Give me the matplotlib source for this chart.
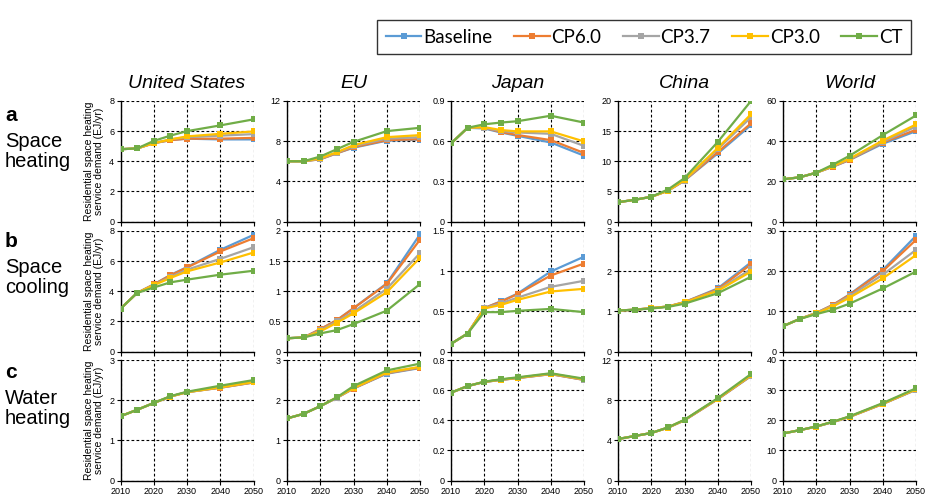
import matplotlib
matplotlib.use("Agg")
import matplotlib.pyplot as plt
from matplotlib.lines import Line2D

years = [2010, 2015, 2020, 2025, 2030, 2040, 2050]
scenarios = ["Baseline", "CP6.0", "CP3.7", "CP3.0", "CT"]
colors = ["#5B9BD5", "#ED7D31", "#A5A5A5", "#FFC000", "#70AD47"]
regions = ["United States", "EU", "Japan", "China", "World"]
rows = ["Space\nheating", "Space\ncooling", "Water\nheating"]
row_letters = ["a", "b", "c"]

# Row a: space heating
heat_us = [
    [4.8, 4.85, 5.2, 5.4, 5.5, 5.45, 5.45],
    [4.8, 4.85, 5.2, 5.4, 5.5, 5.5, 5.55],
    [4.8, 4.85, 5.2, 5.45, 5.6, 5.7, 5.8],
    [4.8, 4.85, 5.2, 5.45, 5.65, 5.82, 5.98],
    [4.8, 4.85, 5.35, 5.7, 6.0, 6.38, 6.78],
]
heat_eu = [
    [6.0, 6.0, 6.2, 6.8, 7.35, 8.05, 8.15],
    [6.0, 6.0, 6.2, 6.8, 7.4, 8.1, 8.2],
    [6.0, 6.0, 6.25, 6.85, 7.5, 8.25, 8.4],
    [6.0, 6.0, 6.3, 6.9, 7.6, 8.4, 8.6],
    [6.0, 6.0, 6.47, 7.2, 7.93, 9.0, 9.33],
]
heat_jp = [
    [0.583, 0.70, 0.695, 0.665, 0.64, 0.59, 0.492],
    [0.583, 0.70, 0.70, 0.668, 0.646, 0.608, 0.512],
    [0.583, 0.70, 0.70, 0.675, 0.665, 0.655, 0.565],
    [0.583, 0.70, 0.705, 0.683, 0.673, 0.673, 0.598],
    [0.583, 0.70, 0.726, 0.739, 0.749, 0.79, 0.739],
]
heat_cn = [
    [3.2, 3.6, 4.1, 5.1, 6.8, 11.3, 16.0],
    [3.2, 3.6, 4.1, 5.1, 6.8, 11.5, 16.3],
    [3.2, 3.6, 4.1, 5.1, 6.8, 12.0, 17.3],
    [3.2, 3.6, 4.1, 5.1, 6.9, 12.2, 17.8],
    [3.2, 3.6, 4.1, 5.3, 7.2, 13.2, 20.0],
]
heat_wd = [
    [21.0, 22.0, 24.3, 27.3, 30.6, 38.7, 45.0],
    [21.0, 22.0, 24.3, 27.3, 30.7, 39.3, 45.7],
    [21.0, 22.0, 24.3, 27.4, 31.0, 39.6, 47.3],
    [21.0, 22.0, 24.3, 27.6, 31.3, 40.3, 48.3],
    [21.0, 22.0, 24.3, 28.3, 32.7, 43.0, 52.8],
]
# Row b: space cooling
cool_us = [
    [2.84, 3.89, 4.45, 5.08, 5.6, 6.75, 7.74],
    [2.84, 3.89, 4.45, 5.05, 5.58, 6.64, 7.52],
    [2.84, 3.89, 4.42, 4.95, 5.43, 6.15, 6.92],
    [2.84, 3.89, 4.4, 4.88, 5.32, 5.91, 6.57],
    [2.84, 3.89, 4.25, 4.59, 4.77, 5.1, 5.36],
]
cool_eu = [
    [0.22, 0.233, 0.37, 0.52, 0.72, 1.13, 1.944],
    [0.22, 0.233, 0.37, 0.52, 0.717, 1.12, 1.856],
    [0.22, 0.233, 0.35, 0.50, 0.66, 1.04, 1.633],
    [0.22, 0.233, 0.333, 0.478, 0.633, 0.983, 1.556],
    [0.22, 0.233, 0.30, 0.355, 0.455, 0.678, 1.12],
]
cool_jp = [
    [0.095, 0.224, 0.54, 0.625, 0.72, 0.996, 1.18],
    [0.095, 0.224, 0.54, 0.62, 0.714, 0.946, 1.095],
    [0.095, 0.224, 0.54, 0.60, 0.67, 0.805, 0.88],
    [0.095, 0.224, 0.535, 0.58, 0.643, 0.747, 0.78],
    [0.095, 0.224, 0.49, 0.49, 0.506, 0.53, 0.49],
]
cool_cn = [
    [1.02, 1.04, 1.08, 1.12, 1.23, 1.57, 2.22],
    [1.02, 1.04, 1.08, 1.12, 1.23, 1.55, 2.17],
    [1.02, 1.04, 1.08, 1.12, 1.22, 1.53, 2.05],
    [1.02, 1.04, 1.08, 1.12, 1.22, 1.51, 1.99],
    [1.02, 1.04, 1.07, 1.11, 1.19, 1.45, 1.86],
]
cool_wd = [
    [6.3, 8.1, 9.6, 11.6, 14.2, 20.3, 28.8],
    [6.3, 8.1, 9.6, 11.6, 14.1, 20.0, 27.8],
    [6.3, 8.1, 9.6, 11.4, 13.8, 19.1, 25.3],
    [6.3, 8.1, 9.5, 11.2, 13.4, 18.2, 24.0],
    [6.3, 8.1, 9.3, 10.4, 11.9, 15.7, 19.9],
]
# Row c: water heating
water_us = [
    [1.6, 1.76, 1.93, 2.09, 2.2, 2.31, 2.44],
    [1.6, 1.76, 1.93, 2.09, 2.2, 2.31, 2.44],
    [1.6, 1.76, 1.93, 2.09, 2.2, 2.32, 2.45],
    [1.6, 1.76, 1.93, 2.09, 2.2, 2.32, 2.45],
    [1.6, 1.76, 1.93, 2.1, 2.21, 2.36, 2.5],
]
water_eu = [
    [1.545, 1.66, 1.85, 2.06, 2.29, 2.66, 2.8],
    [1.545, 1.66, 1.85, 2.06, 2.29, 2.67, 2.81],
    [1.545, 1.66, 1.85, 2.06, 2.3, 2.68, 2.82],
    [1.545, 1.66, 1.85, 2.07, 2.3, 2.69, 2.83],
    [1.545, 1.66, 1.85, 2.07, 2.35, 2.74, 2.91],
]
water_jp = [
    [0.583, 0.627, 0.654, 0.668, 0.68, 0.706, 0.668],
    [0.583, 0.627, 0.654, 0.668, 0.68, 0.706, 0.668],
    [0.583, 0.627, 0.655, 0.669, 0.681, 0.708, 0.67],
    [0.583, 0.627, 0.655, 0.67, 0.682, 0.709, 0.672],
    [0.583, 0.627, 0.656, 0.672, 0.685, 0.712, 0.676],
]
water_cn = [
    [4.13, 4.43, 4.73, 5.25, 6.0, 8.1, 10.4],
    [4.13, 4.43, 4.73, 5.25, 6.0, 8.1, 10.42],
    [4.13, 4.43, 4.73, 5.27, 6.02, 8.15, 10.45],
    [4.13, 4.43, 4.73, 5.27, 6.03, 8.15, 10.48],
    [4.13, 4.43, 4.73, 5.29, 6.05, 8.2, 10.6],
]
water_wd = [
    [15.6, 16.7, 17.9, 19.4, 21.1, 25.4, 30.1],
    [15.6, 16.7, 17.9, 19.4, 21.1, 25.4, 30.2],
    [15.6, 16.7, 17.9, 19.4, 21.2, 25.5, 30.2],
    [15.6, 16.7, 17.9, 19.5, 21.2, 25.5, 30.3],
    [15.6, 16.7, 17.96, 19.5, 21.3, 25.7, 30.6],
]

data = [
    [heat_us, heat_eu, heat_jp, heat_cn, heat_wd],
    [cool_us, cool_eu, cool_jp, cool_cn, cool_wd],
    [water_us, water_eu, water_jp, water_cn, water_wd],
]
ylims = [
    [(8, 2), (12, 4), (0.9, 0.3), (20, 5), (60, 20)],
    [(8, 2), (2, 0.5), (1.5, 0.5), (3, 1), (30, 10)],
    [(3, 1), (3, 1), (0.8, 0.2), (12, 4), (40, 10)],
]
xticks = [2010, 2020, 2030, 2040, 2050]
ylabel = "Residential space heating\nservice demand (EJ/yr)"

W, H = 930, 495
fig = plt.figure(figsize=(W / 100, H / 100), dpi=100)
plt.rcParams["font.family"] = ["Liberation Sans", "DejaVu Sans"]

col_left = [120.5, 287, 451, 618, 783]
ax_w = 133
row_top = [101, 231, 360]
ax_h = 120.5

for r in range(3):
    for c in range(5):
        ax = fig.add_axes([col_left[c] / W, (H - row_top[r] - ax_h) / H, ax_w / W, ax_h / H])
        for s in range(5):
            ax.plot(years, data[r][c][s], color=colors[s], lw=1.6, marker="s",
                    markersize=3.8, markeredgewidth=0, zorder=3 + s)
        ymax, step = ylims[r][c]
        ax.set_ylim(0, ymax)
        ax.set_xlim(2010, 2050)
        n = int(round(ymax / step))
        yt = [step * i for i in range(n + 1)]
        ax.set_yticks(yt)
        ax.set_yticklabels([("%g" % round(v, 3)) for v in yt])
        ax.set_xticks(xticks)
        if r < 2:
            ax.set_xticklabels([])
        ax.grid(True, color="black", linestyle=(0, (2.5, 2)), linewidth=0.8)
        ax.set_axisbelow(True)
        for sp in ["top", "right"]:
            ax.spines[sp].set_visible(False)
        for sp in ["left", "bottom"]:
            ax.spines[sp].set_linewidth(1.0)
        ax.tick_params(axis="both", direction="out", length=3, width=0.8,
                       labelsize=6.5, pad=1.5)
        if c == 0:
            ax.set_ylabel(ylabel, fontsize=7.5, labelpad=4, linespacing=1.0)
        if r == 0:
            ax.set_title(regions[c], fontsize=14, style="italic", pad=9)

for r in range(3):
    ytop = [109, 235, 366][r]
    fig.text(5 / W, 1 - (ytop - 3) / H, row_letters[r], fontsize=15, fontweight="bold",
             va="top", ha="left")
    fig.text(5 / W, 1 - (ytop + 23) / H, rows[r], fontsize=14.5, va="top", ha="left",
             linespacing=1.05)

handles = [Line2D([0], [0], color=colors[s], lw=1.6, marker="s", markersize=4,
                  markeredgewidth=0) for s in range(5)]
leg = fig.legend(handles, scenarios, loc="upper right", bbox_to_anchor=(920 / W, 1 - 11 / H),
                 ncol=5, frameon=True, fancybox=False, edgecolor="black",
                 prop={"family": "Lato", "size": 13.5}, handlelength=1.9,
                 handletextpad=0.1, columnspacing=1.15, borderpad=0.45)
leg.get_frame().set_linewidth(1.0)

fig.savefig("out.png", dpi=100)
